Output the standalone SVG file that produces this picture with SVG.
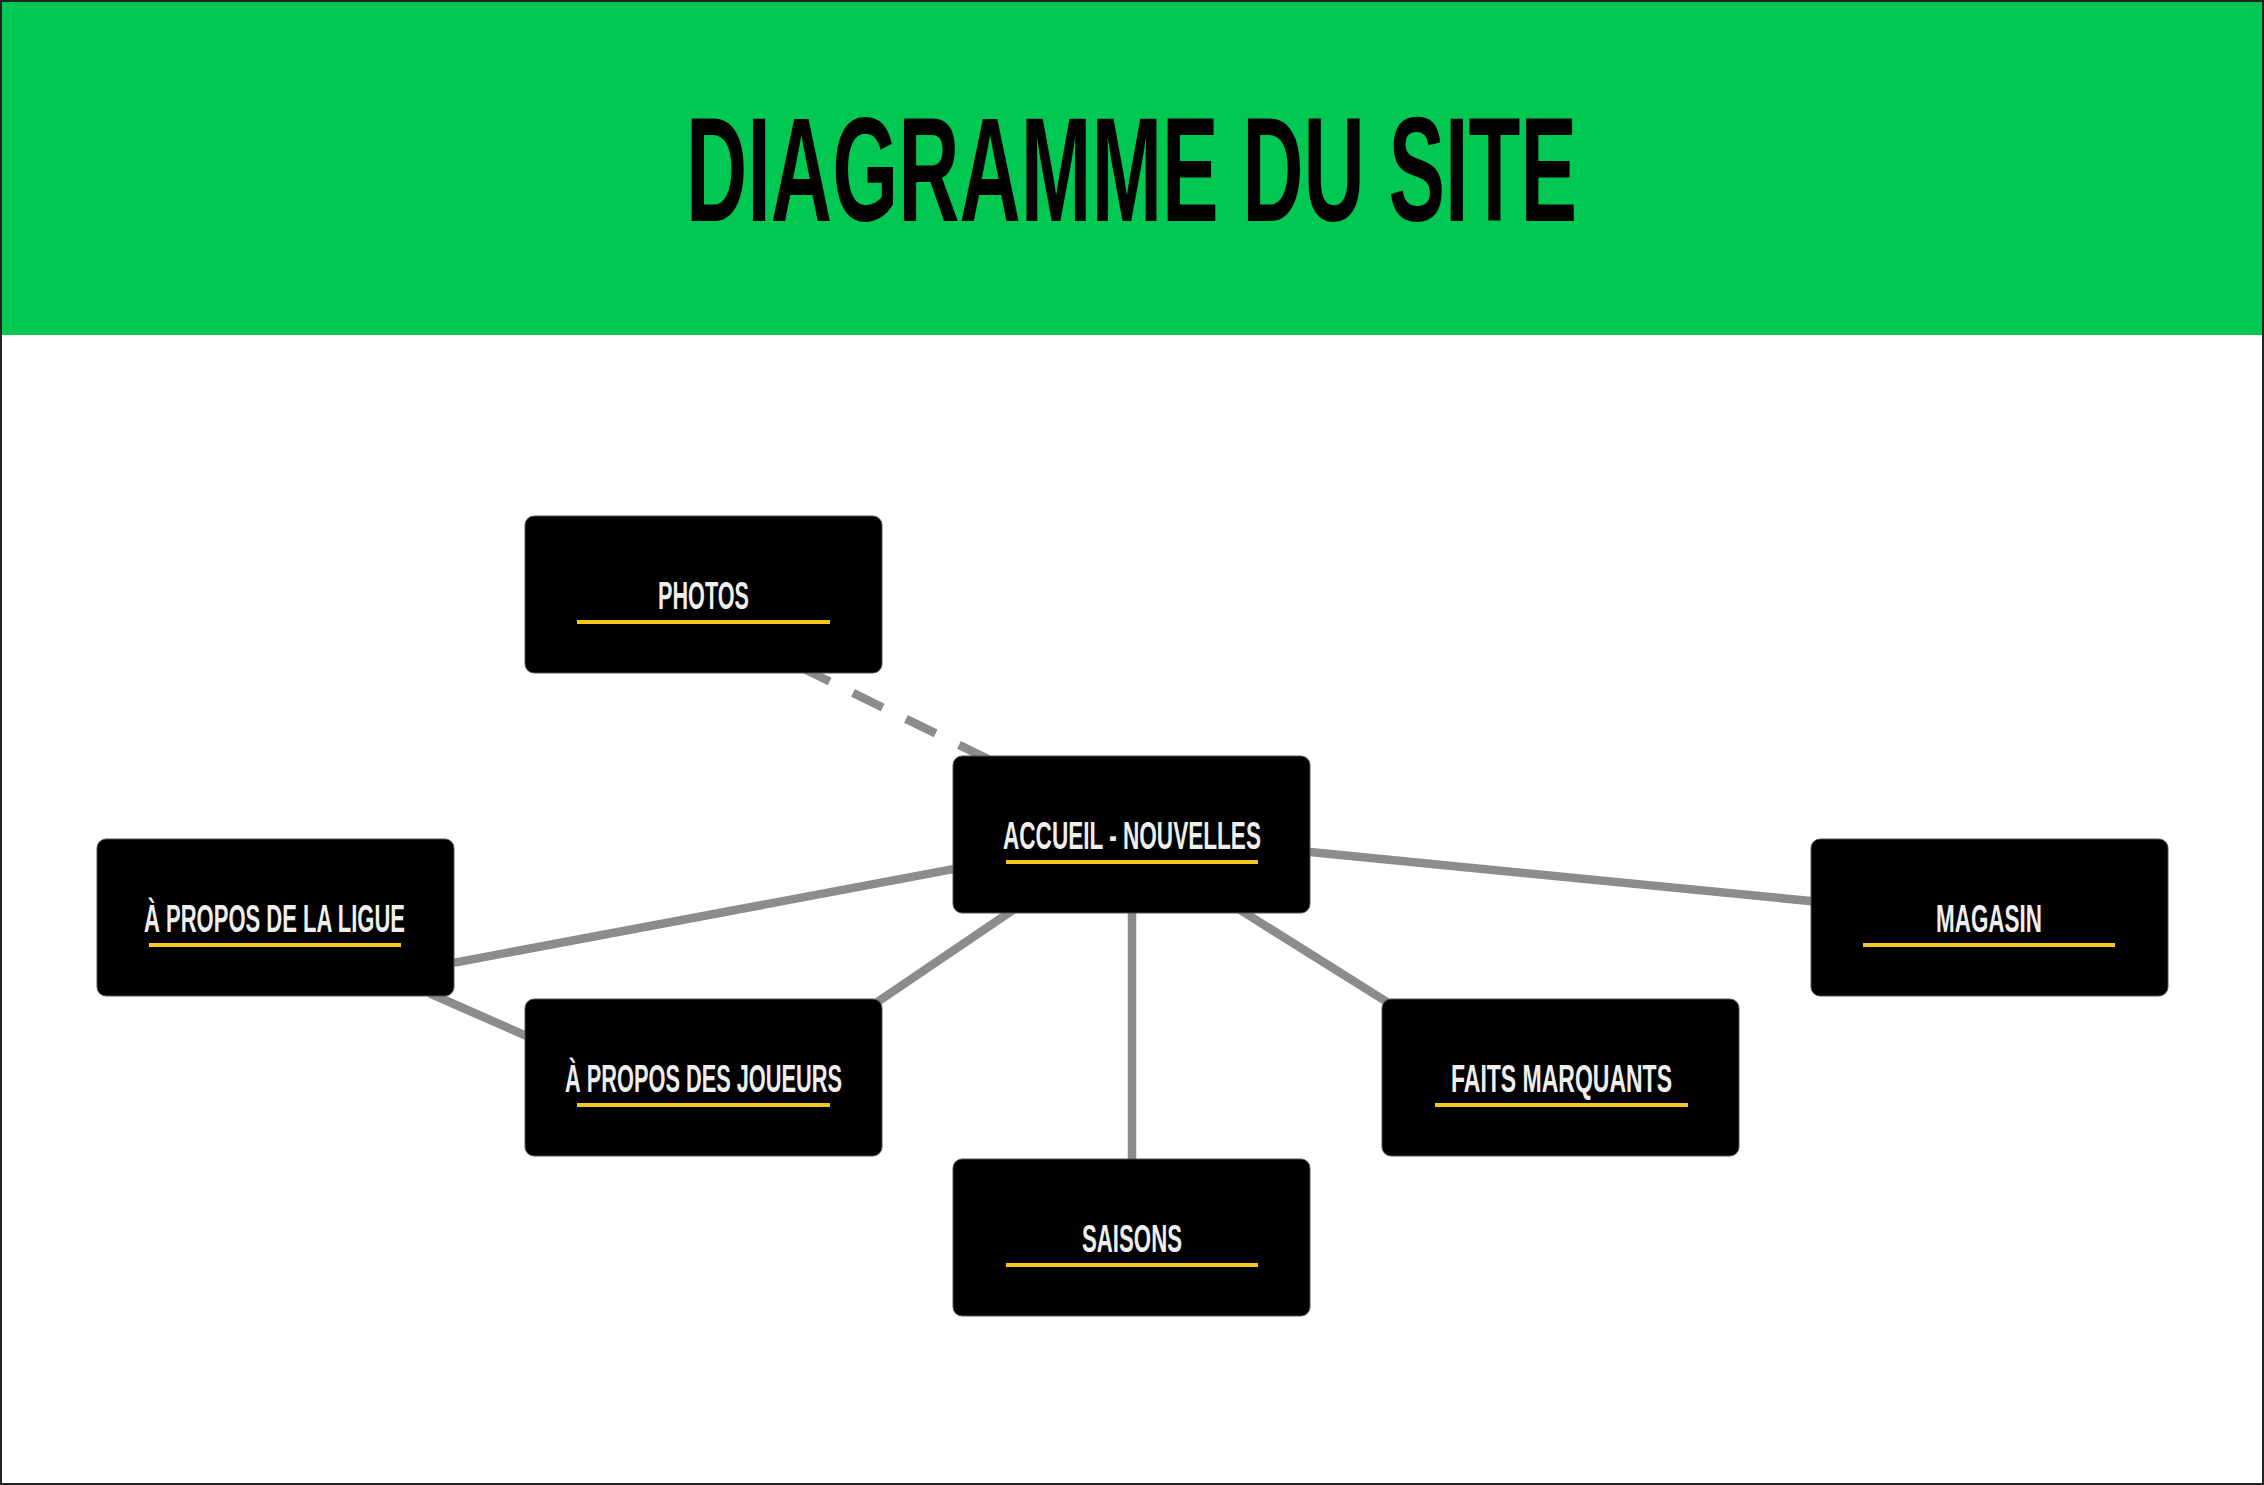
<svg xmlns="http://www.w3.org/2000/svg" width="2264" height="1485" viewBox="0 0 2264 1485">
<style>
.node rect.box{fill:#000;stroke:#555;stroke-width:1}
.node text{font-family:"Liberation Sans Narrow","Liberation Sans",Arial,sans-serif;font-weight:bold;font-size:39px;fill:#eeeeee;text-anchor:middle}
.node line{stroke:#f2c81e;stroke-width:4}
.conn line{stroke:#8c8c8c;stroke-width:8.5;fill:none}
.title{font-family:"Liberation Sans Narrow","Liberation Sans",Arial,sans-serif;font-weight:bold;font-size:148px;fill:#000;text-anchor:middle}
</style>
<rect x="0" y="0" width="2264" height="1485" fill="#ffffff"/>
<rect x="0" y="0" width="2264" height="335" fill="#00c853"/>
<text class="title" x="1131.5" y="221" textLength="891" lengthAdjust="spacingAndGlyphs">DIAGRAMME DU SITE</text>
<g id="connectors" class="conn">
<line x1="440" y1="965.4" x2="965" y2="866.9"/>
<line x1="430" y1="993.5" x2="535" y2="1039.7"/>
<line x1="870" y1="1007" x2="1022" y2="904"/>
<line x1="1132" y1="905" x2="1132" y2="1165"/>
<line x1="1235" y1="906.7" x2="1395" y2="1007"/>
<line x1="1300" y1="851" x2="1820" y2="902"/>
<line x1="800" y1="667" x2="990" y2="760" stroke-dasharray="33 26"/>
</g>
<g id="photos" class="node">
<rect class="box" x="525" y="516" width="357" height="157" rx="9"/>
<text x="703.5" y="609" textLength="91" lengthAdjust="spacingAndGlyphs">PHOTOS</text>
<line x1="577" y1="622" x2="830" y2="622"/>
</g>
<g id="accueil" class="node">
<rect class="box" x="953" y="756" width="357" height="157" rx="9"/>
<text x="1132" y="849" textLength="258" lengthAdjust="spacingAndGlyphs">ACCUEIL - NOUVELLES</text>
<line x1="1006" y1="862" x2="1258" y2="862"/>
</g>
<g id="ligue" class="node">
<rect class="box" x="97" y="839" width="357" height="157" rx="9"/>
<text x="274.5" y="932" textLength="261" lengthAdjust="spacingAndGlyphs">À PROPOS DE LA LIGUE</text>
<line x1="149" y1="945" x2="401" y2="945"/>
</g>
<g id="joueurs" class="node">
<rect class="box" x="525" y="999" width="357" height="157" rx="9"/>
<text x="703.5" y="1092" textLength="277" lengthAdjust="spacingAndGlyphs">À PROPOS DES JOUEURS</text>
<line x1="577" y1="1105" x2="830" y2="1105"/>
</g>
<g id="saisons" class="node">
<rect class="box" x="953" y="1159" width="357" height="157" rx="9"/>
<text x="1132" y="1252" textLength="100" lengthAdjust="spacingAndGlyphs">SAISONS</text>
<line x1="1006" y1="1265" x2="1258" y2="1265"/>
</g>
<g id="faits" class="node">
<rect class="box" x="1382" y="999" width="357" height="157" rx="9"/>
<text x="1561.5" y="1092" textLength="221" lengthAdjust="spacingAndGlyphs">FAITS MARQUANTS</text>
<line x1="1435" y1="1105" x2="1688" y2="1105"/>
</g>
<g id="magasin" class="node">
<rect class="box" x="1811" y="839" width="357" height="157" rx="9"/>
<text x="1989" y="932" textLength="106" lengthAdjust="spacingAndGlyphs">MAGASIN</text>
<line x1="1863" y1="945" x2="2115" y2="945"/>
</g>
<rect x="1" y="1" width="2262" height="1483" fill="none" stroke="#222" stroke-width="2"/>
</svg>
